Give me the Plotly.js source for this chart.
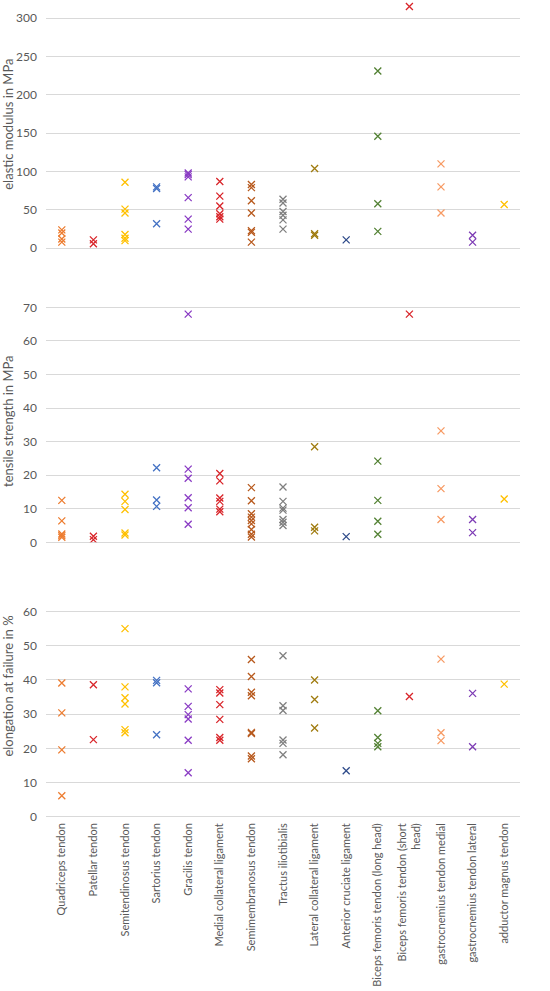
<!DOCTYPE html>
<html>
<head>
<meta charset="utf-8">
<script src="https://cdn.plot.ly/plotly-3.0.1.min.js"></script>
<style>html,body{margin:0;padding:0;background:#fff;}#chart{width:550px;height:991px;}</style>
</head>
<body>
<div id="chart"></div>
<script>
const categories = [
  "Quadriceps tendon", "Patellar tendon", "Semitendinosus tendon", "Sartorius tendon",
  "Gracilis tendon", "Medial collateral ligament", "Semimembranosus tendon",
  "Tractus iliotibialis", "Lateral collateral ligament", "Anterior cruciate ligament",
  "Biceps femoris tendon (long head)", "Biceps femoris tendon (short head)",
  "gastrocnemius tendon medial", "gastrocnemius tendon lateral", "adductor magnus tendon"
];
const tickLabels = [
  "Quadriceps tendon", "Patellar tendon", "Semitendinosus tendon", "Sartorius tendon",
  "Gracilis tendon", "Medial collateral ligament", "Semimembranosus tendon",
  "Tractus iliotibialis", "Lateral collateral ligament", "Anterior cruciate ligament",
  "Biceps femoris tendon (long head)", "Biceps femoris tendon (short<br>head)",
  "gastrocnemius tendon medial", "gastrocnemius tendon lateral", "adductor magnus tendon"
];
const categoryColors = [
  "#ED7D31", "#D9262B", "#FFC000", "#4472C4", "#8A3CC4", "#D9262B", "#B85A1E",
  "#7F7F7F", "#A07C10", "#2F4B8A", "#548235", "#D9262B", "#F79A63", "#7E3DB5", "#FFC000"
];
const elasticModulus = [
  [24, 20, 12, 8],
  [11, 6],
  [86, 51, 46, 18, 13, 10],
  [80, 78, 32],
  [98, 96, 93, 66, 38, 25],
  [87, 68, 55, 45, 41, 38],
  [83, 79, 62, 46, 23, 21, 8],
  [64, 59, 48, 43, 37, 25],
  [104, 19, 17],
  [11],
  [231, 146, 58, 22],
  [315],
  [110, 80, 46],
  [17, 8],
  [57]
];
const tensileStrength = [
  [12.5, 6.4, 2.5, 2.0, 1.5],
  [1.8, 0.8],
  [14.3, 12.2, 9.8, 2.8, 2.2],
  [22.2, 12.6, 10.7],
  [68, 21.8, 19.1, 13.3, 10.3, 5.4],
  [20.5, 18.3, 13.2, 12.2, 9.9, 9.1],
  [16.3, 12.4, 8.5, 7.5, 6.5, 5.5, 3.8, 2.4, 1.6],
  [16.5, 12.2, 10.2, 9.6, 6.8, 6.0, 5.0],
  [28.5, 4.5, 3.4],
  [1.7],
  [24.2, 12.5, 6.3, 2.4],
  [68],
  [33.2, 16, 6.8],
  [6.8, 2.9],
  [12.9]
];
const elongation = [
  [39.1, 30.4, 19.6, 6.2],
  [38.6, 22.6],
  [55, 38, 34.8, 33, 25.5, 24.6],
  [39.9, 39.2, 24],
  [37.4, 32.3, 29.9, 28.6, 22.4, 12.9],
  [37.2, 36.2, 32.8, 28.5, 23.2, 22.4],
  [46, 41, 36.4, 35.4, 24.7, 24.4, 17.8, 17],
  [47.1, 32.5, 31.1, 22.5, 21.5, 18.2],
  [40, 34.3, 26],
  [13.5],
  [31, 23.2, 21.5, 20.5],
  [35.2],
  [46.1, 24.6, 22.3],
  [36.1, 20.5],
  [38.8]
];
const panelTitles = ["elastic modulus in MPa", "tensile strength in MPa", "elongation at failure in %"];

const FONT = "Lato, 'Liberation Sans', sans-serif";
const panels = [elasticModulus, tensileStrength, elongation];
const yaxisIds = ["y", "y2", "y3"];
const traces = [];
panels.forEach((panel, p) => {
  panel.forEach((vals, c) => {
    traces.push({
      type: "scatter", mode: "markers",
      x: vals.map(() => categories[c]),
      y: vals,
      xaxis: "x", yaxis: yaxisIds[p],
      showlegend: false, hoverinfo: "y",
      marker: {symbol: "x-thin-open", size: 7, color: categoryColors[c],
               line: {color: categoryColors[c], width: 1.3}}
    });
  });
});

function yax(domain, range, tickvals, title) {
  return {
    domain: domain, range: range, tickvals: tickvals, ticktext: tickvals.map(String),
    showgrid: true, gridcolor: "#D9D9D9", gridwidth: 1,
    zeroline: true, zerolinecolor: "#D9D9D9", zerolinewidth: 1,
    showline: false, ticks: "", ticklabelstandoff: 8,
    tickfont: {family: FONT, size: 12, color: "#595959"},
    title: {text: title, font: {family: FONT, size: 13, color: "#595959"}, standoff: 6},
    fixedrange: true
  };
}

const layout = {
  width: 550, height: 991,
  margin: {l: 46, r: 30, t: 0, b: 174},
  paper_bgcolor: "#fff", plot_bgcolor: "#fff",
  font: {family: FONT, color: "#595959"},
  xaxis: {
    type: "category", categoryorder: "array", categoryarray: categories,
    range: [-0.5, 14.5], anchor: "y3",
    tickvals: categories, ticktext: tickLabels, tickangle: -90,
    tickfont: {family: FONT, size: 11, color: "#595959"},
    showgrid: false, zeroline: false, showline: false, ticks: "", ticklabelstandoff: 3,
    fixedrange: true
  },
  yaxis: yax([0.6961, 1.0], [0, 323.5], [0, 50, 100, 150, 200, 250, 300], panelTitles[0]),
  yaxis2: yax([0.3362, 0.6328], [0, 72.2], [0, 10, 20, 30, 40, 50, 60, 70], panelTitles[1]),
  yaxis3: yax([0, 0.3207], [0, 76.5], [0, 10, 20, 30, 40, 50, 60], panelTitles[2])
};

Plotly.newPlot("chart", traces, layout, {displayModeBar: false, staticPlot: true});
</script>
</body>
</html>
